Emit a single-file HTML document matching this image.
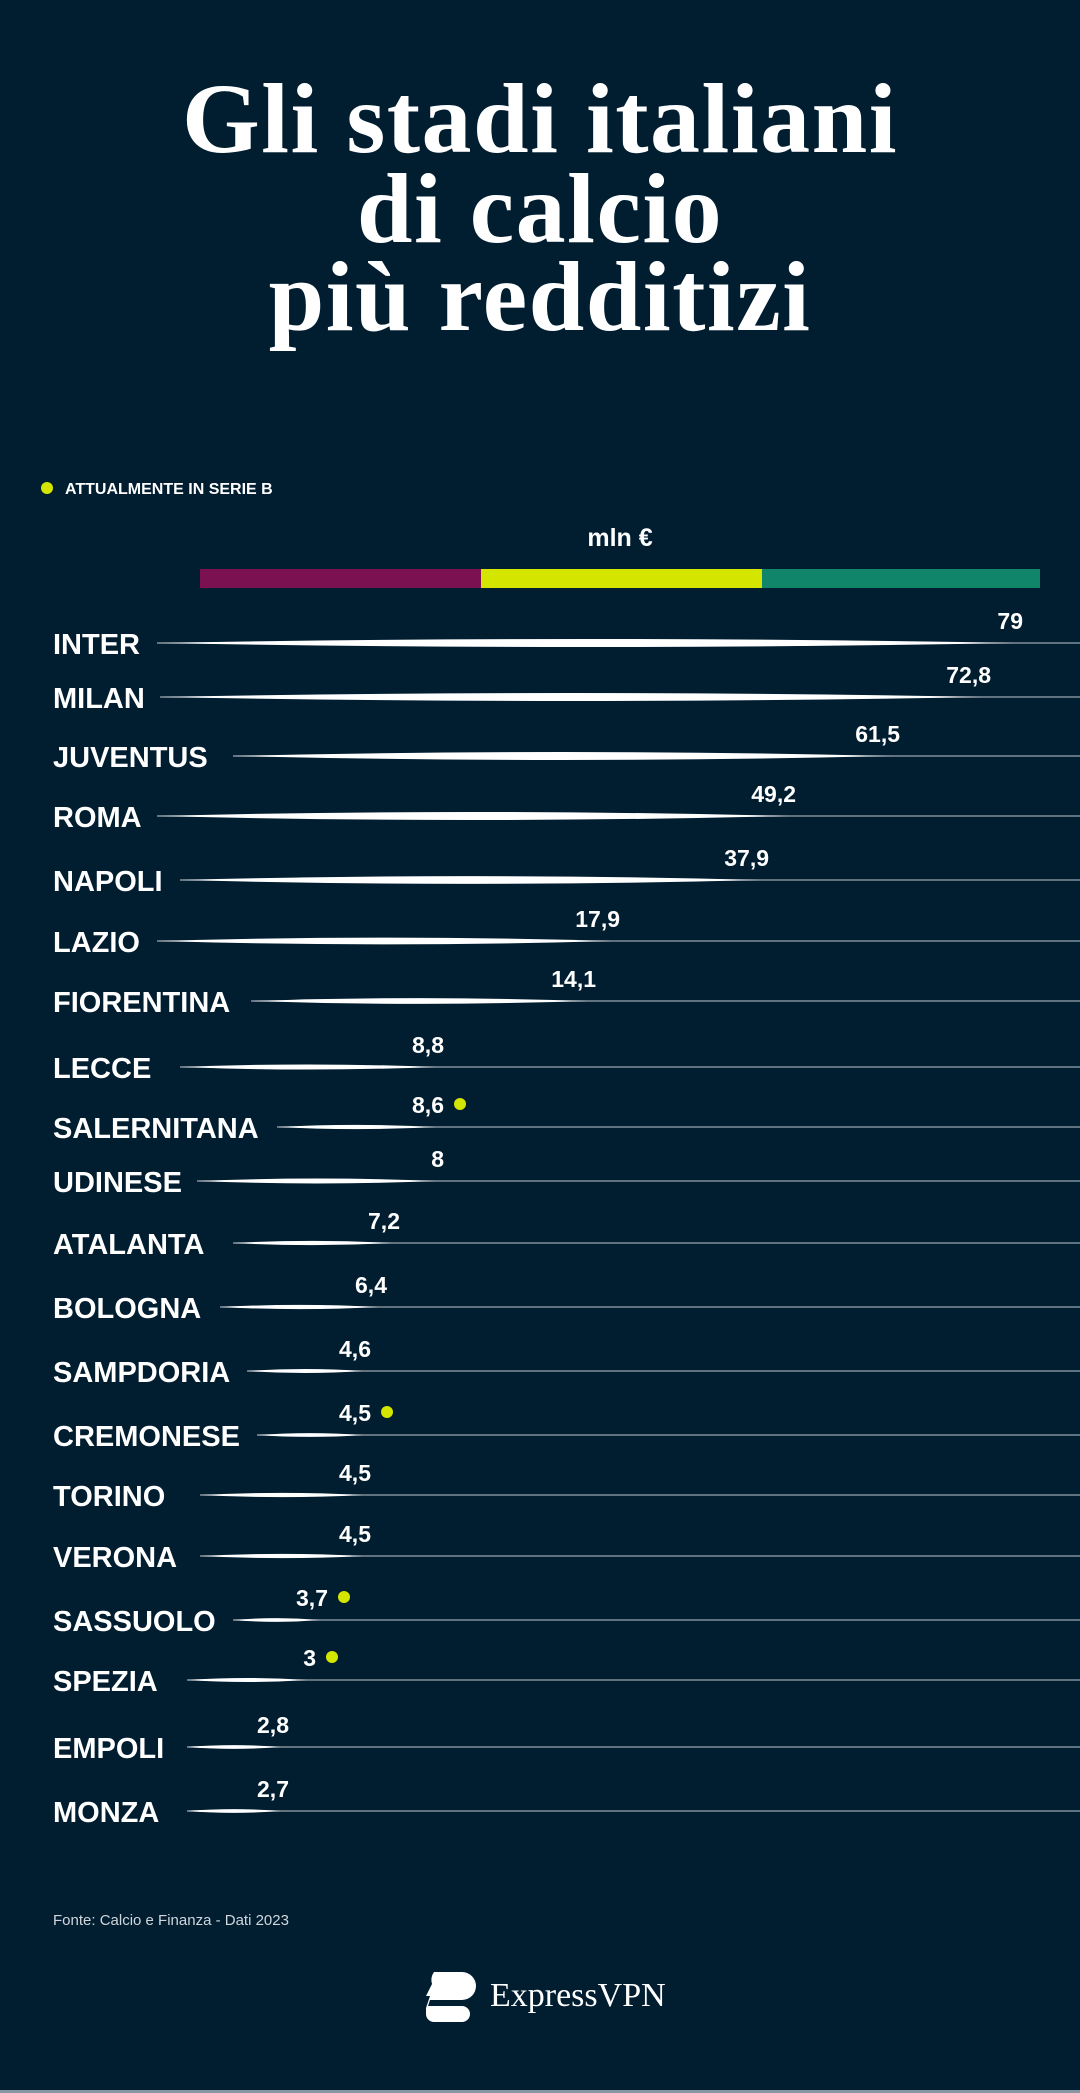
<!DOCTYPE html>
<html><head><meta charset="utf-8"><style>
html,body{margin:0;padding:0;background:#011d30;}
svg{display:block}
.t{font-family:"Liberation Serif",serif;font-weight:bold;fill:#fff;font-size:100px;letter-spacing:1.5px}
.l{font-family:"Liberation Sans",sans-serif;font-weight:bold;fill:#fff;font-size:29px}
.v{font-family:"Liberation Sans",sans-serif;font-weight:bold;fill:#fff;font-size:23px}
</style></head><body>
<svg width="1080" height="2093" viewBox="0 0 1080 2093" xmlns="http://www.w3.org/2000/svg">
<rect width="1080" height="2093" fill="#011d30"/>
<text class="t" x="540" y="152" text-anchor="middle">Gli stadi italiani</text>
<text class="t" x="540" y="242" text-anchor="middle">di calcio</text>
<text class="t" x="540" y="330" text-anchor="middle">più redditizi</text>
<circle cx="47" cy="488" r="6" fill="#d4e600"/>
<text x="65" y="494" font-family="Liberation Sans,sans-serif" font-weight="bold" font-size="16" fill="#fff">ATTUALMENTE IN SERIE B</text>
<text x="620" y="546" text-anchor="middle" font-family="Liberation Sans,sans-serif" font-weight="bold" font-size="25" fill="#fff">mln €</text>
<rect x="200" y="569" width="281" height="19" fill="#7b1150"/>
<rect x="481" y="569" width="281" height="19" fill="#d4e600"/>
<rect x="762" y="569" width="278" height="19" fill="#108569"/>
<g id="rows"></g>
<text x="53" y="1925" font-family="Liberation Sans,sans-serif" font-size="15" fill="#d0d6dc">Fonte: Calcio e Finanza - Dati 2023</text>
<g fill="#fff">
<path d="M434 1972 h28 a14 14 0 0 1 0 28 h-32 l-2 6 h34 a8 8 0 0 1 0 16 h-28 a8 8 0 0 1 -8 -8 v-6 l4 -12 h-4 l6 -12 a14 14 0 0 1 2 -12z"/>
</g>
<text x="490" y="2006" font-family="Liberation Serif,serif" font-size="34" fill="#fff">ExpressVPN</text>
<rect x="0" y="2090" width="1080" height="3" fill="#8896a3"/>
</svg>
<script>
var d=[["INTER",643,157,1023,"79"],["MILAN",697,160,991,"72,8"],["JUVENTUS",756,233,900,"61,5"],["ROMA",816,157,796,"49,2"],["NAPOLI",880,180,769,"37,9"],["LAZIO",941,157,620,"17,9"],["FIORENTINA",1001,251,596,"14,1"],["LECCE",1067,180,444,"8,8"],["SALERNITANA",1127,277,444,"8,6",1],["UDINESE",1181,197,444,"8"],["ATALANTA",1243,233,400,"7,2"],["BOLOGNA",1307,220,387,"6,4"],["SAMPDORIA",1371,247,371,"4,6"],["CREMONESE",1435,257,371,"4,5",1],["TORINO",1495,200,371,"4,5"],["VERONA",1556,200,371,"4,5"],["SASSUOLO",1620,233,328,"3,7",1],["SPEZIA",1680,187,316,"3",1],["EMPOLI",1747,187,289,"2,8"],["MONZA",1811,187,289,"2,7"]];
var s="";
d.forEach(function(r){var y=r[1],x0=r[2],x1=r[3]-8,m=(x0+x1)/2,h=Math.min(4,1.5+(x1-x0)/250);
s+='<line x1="'+x0+'" y1="'+y+'" x2="1080" y2="'+y+'" stroke="#9aa4ae" stroke-width="1.2"/>';
s+='<path d="M'+x0+' '+y+' Q'+m+' '+(y-h*2)+' '+x1+' '+y+' Q'+m+' '+(y+h*2)+' '+x0+' '+y+'Z" fill="#fff"/>';
s+='<text class="l" x="53" y="'+(y+11)+'">'+r[0]+'</text>';
s+='<text class="v" x="'+r[3]+'" y="'+(y-14)+'" text-anchor="end">'+r[4]+'</text>';
if(r[5])s+='<circle cx="'+(r[3]+16)+'" cy="'+(y-23)+'" r="6" fill="#d4e600"/>';});
document.getElementById("rows").innerHTML=s;
</script>
</body></html>
